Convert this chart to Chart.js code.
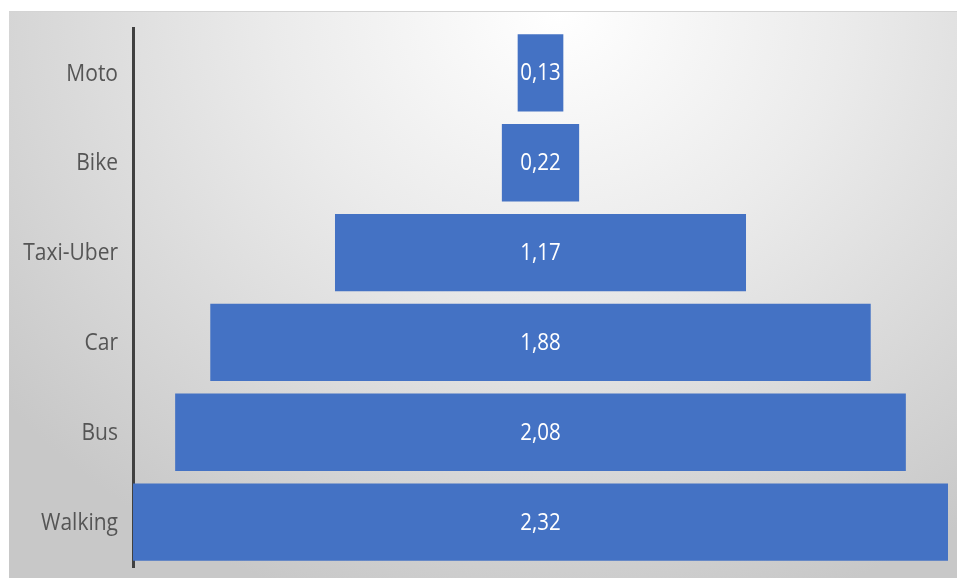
<!DOCTYPE html>
<html><head><meta charset="utf-8">
<script src="https://cdn.jsdelivr.net/npm/chart.js@4"></script>
<style>
html,body{margin:0;padding:0;background:#fff;width:957px;height:578px;overflow:hidden}
#bg{position:absolute;left:9px;top:11px;width:948px;height:567px;border-top:1px solid #d4d4d4;box-sizing:border-box;
background:radial-gradient(ellipse 75% 110% at 58% 0%, #ffffff 0%, #ebebeb 40%, #c8c8c8 100%);}
#wrap{position:absolute;left:0;top:0;width:957px;height:578px}
</style></head><body>
<div id="bg"></div>
<div id="wrap"><canvas id="c" width="957" height="578"></canvas></div>
<script>
const categories = ["Moto","Bike","Taxi-Uber","Car","Bus","Walking"];
const values = [0.13,0.22,1.17,1.88,2.08,2.32];
const valueLabels = ["0,13","0,22","1,17","1,88","2,08","2,32"];

const FONT = "'Open Sans', 'Noto Sans', sans-serif";
const STRETCH = 1.12;
function stretchedText(ctx, txt, x, y){
  ctx.save();
  ctx.translate(x, y);
  ctx.scale(1, STRETCH);
  ctx.fillText(txt, 0, 0);
  ctx.restore();
}
const labelPlugin = {
  id:'vals',
  afterDatasetsDraw(chart){
    const ctx = chart.ctx;
    const meta = chart.getDatasetMeta(0);
    ctx.save();
    ctx.fillStyle = '#ffffff';
    ctx.font = "20.5px " + FONT;
    ctx.textAlign = 'center';
    ctx.textBaseline = 'middle';
    meta.data.forEach((el,i)=>{
      const p = el.getProps(['x','base','y'],true);
      stretchedText(ctx, valueLabels[i], (p.x+p.base)/2, p.y+1);
    });
    const ys = chart.scales.y;
    ctx.fillStyle = '#555555';
    ctx.font = "21px " + FONT;
    ctx.textAlign = 'right';
    categories.forEach((c,i)=>{
      stretchedText(ctx, c, ys.right - 15, ys.getPixelForTick(i)+1);
    });
    ctx.restore();
  }
};

new Chart(document.getElementById('c'), {
  type:'bar',
  data:{
    labels: categories,
    datasets:[{
      data: values.map(v=>[-v/2, v/2]),
      backgroundColor:'#4472C4',
      borderWidth:0,
      barPercentage:0.86,
      categoryPercentage:1
    }]
  },
  options:{
    indexAxis:'y',
    responsive:false,
    animation:false,
    layout:{padding:{left:0,right:9,top:28,bottom:11}},
    plugins:{legend:{display:false},tooltip:{enabled:false}},
    scales:{
      x:{display:false,min:-1.16,max:1.16},
      y:{
        grid:{display:false},
        border:{display:true,color:'#404040',width:3},
        ticks:{display:false},
        afterFit(s){ s.width = 133; }
      }
    }
  },
  plugins:[labelPlugin]
});
</script>
</body></html>
